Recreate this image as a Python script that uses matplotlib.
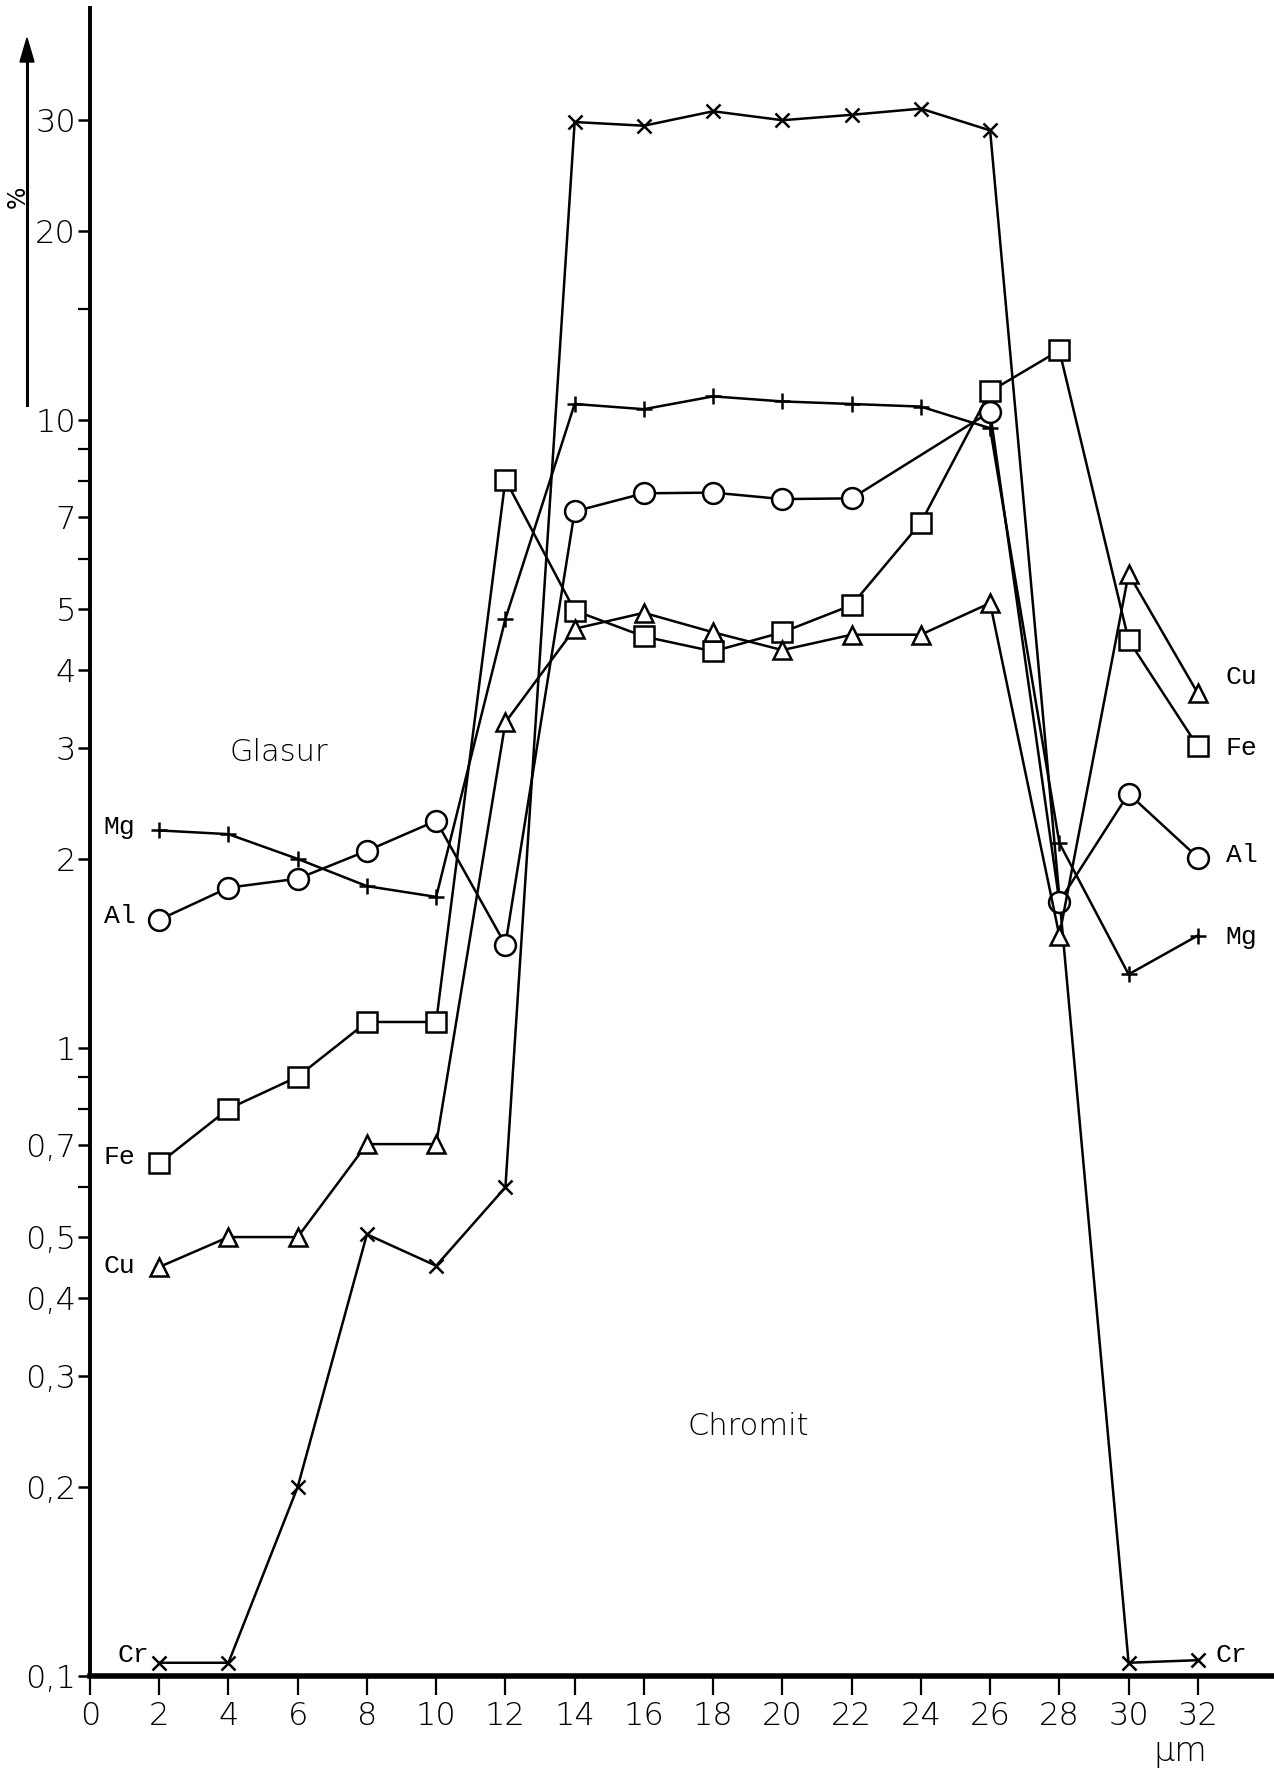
import matplotlib.pyplot as plt
import matplotlib.ticker as mticker
import numpy as np

# Konzentrationsprofil Glasur / Chromit
x_all = [2, 4, 6, 8, 10, 12, 14, 16, 18, 20, 22, 24, 26, 28, 30, 32]

cr_x = [2, 4, 6, 8, 10, 12, 14, 16, 18, 20, 22, 24, 26, 30, 32]
cr_y = [0.105, 0.105, 0.2, 0.505, 0.45, 0.6, 29.8, 29.4, 31.0, 30.0, 30.6,
        31.3, 28.9, 0.105, 0.106]

mg_y = [2.22, 2.19, 2.0, 1.81, 1.74, 4.82, 10.6, 10.4, 10.9, 10.7, 10.6,
        10.5, 9.7, 2.12, 1.31, 1.51]

al_x = [2, 4, 6, 8, 10, 12, 14, 16, 18, 20, 22, 26, 28, 30, 32]
al_y = [1.60, 1.80, 1.86, 2.06, 2.30, 1.46, 7.15, 7.64, 7.66, 7.48, 7.5,
        10.3, 1.71, 2.54, 2.01]

fe_y = [0.655, 0.80, 0.90, 1.10, 1.10, 8.03, 4.97, 4.52, 4.28, 4.59, 5.07,
        6.86, 11.1, 12.9, 4.46, 3.02]

cu_y = [0.448, 0.50, 0.50, 0.703, 0.703, 3.30, 4.65, 4.93, 4.59, 4.30, 4.55,
        4.55, 5.11, 1.51, 5.69, 3.67]

y_major = [0.1, 0.2, 0.3, 0.4, 0.5, 0.7, 1, 2, 3, 4, 5, 7, 10, 20, 30]
y_major_lbl = ['0,1', '0,2', '0,3', '0,4', '0,5', '0,7', '1', '2', '3', '4',
               '5', '7', '10', '20', '30']
y_minor = [0.6, 0.8, 0.9, 6, 8, 9, 15]
x_ticks = list(range(0, 33, 2))

mono = 'Liberation Mono'
sans = 'DejaVu Sans'


def main():
    fig = plt.figure(figsize=(12.74, 17.71), dpi=100)
    ax = fig.add_axes([0.0706, 0.0536, 0.9294, 0.942])
    ax.set_yscale('log')
    ax.set_xlim(0, 34.2)
    ax.set_ylim(0.1, 45.3)

    lw = 1.8
    mk = dict(color='k', lw=lw, mfc='white', mec='k', mew=1.8, zorder=3)
    ax.plot(cr_x, cr_y, marker='x', ms=10, **mk)
    ax.plot(x_all, mg_y, marker='+', ms=12, **mk)
    ax.plot(al_x, al_y, marker='o', ms=15, **mk)
    ax.plot(x_all, fe_y, marker='s', ms=14, **mk)
    ax.plot(x_all, cu_y, marker='^', ms=13, **mk)

    for s in ['top', 'right']:
        ax.spines[s].set_visible(False)
    ax.spines['left'].set_linewidth(2.8)
    ax.spines['bottom'].set_linewidth(4)

    ax.set_xticks(x_ticks)
    ax.set_xticklabels([str(v) for v in x_ticks])
    ax.yaxis.set_major_locator(mticker.FixedLocator(y_major))
    ax.yaxis.set_major_formatter(mticker.FixedFormatter(y_major_lbl))
    ax.yaxis.set_minor_locator(mticker.FixedLocator(y_minor))
    ax.yaxis.set_minor_formatter(mticker.NullFormatter())
    ax.tick_params(axis='x', direction='out', length=14, width=1.6,
                   labelsize=23, pad=4)
    ax.tick_params(axis='y', which='major', direction='out', length=9,
                   width=1.8, labelsize=23, pad=1)
    ax.tick_params(axis='y', which='minor', direction='out', length=9,
                   width=1.6)
    for lab in ax.get_xticklabels() + ax.get_yticklabels():
        lab.set_family(sans)
        lab.set_fontweight('light')

    # Beschriftungen der Kurven
    fs = 19
    ax.text(0.4, 2.25, 'Mg', family=mono, fontsize=fs, va='center')
    ax.text(0.4, 1.62, 'Al', family=mono, fontsize=fs, va='center')
    ax.text(0.4, 0.67, 'Fe', family=mono, fontsize=fs, va='center')
    ax.text(0.4, 0.45, 'Cu', family=mono, fontsize=fs, va='center')
    ax.text(0.8, 0.108, 'Cr', family=mono, fontsize=fs, va='center')
    ax.text(32.8, 3.9, 'Cu', family=mono, fontsize=fs, va='center')
    ax.text(32.8, 3.0, 'Fe', family=mono, fontsize=fs, va='center')
    ax.text(32.8, 2.03, 'Al', family=mono, fontsize=fs, va='center')
    ax.text(32.8, 1.5, 'Mg', family=mono, fontsize=fs, va='center')
    ax.text(32.5, 0.108, 'Cr', family=mono, fontsize=fs, va='center')

    ax.text(5.45, 2.95, 'Glasur', family=sans, fontsize=22, fontweight='light',
            ha='center', va='center')
    ax.text(19.0, 0.25, 'Chromit', family=sans, fontsize=22,
            fontweight='light', ha='center', va='center')

    # Achsenbeschriftungen
    fig.text(1180 / 1274, 1 - 1751 / 1771, 'µm', family=sans, fontsize=24,
             fontweight='light', ha='center', va='center')
    fig.add_artist(plt.Line2D([27 / 1274, 27 / 1274],
                              [1 - 405 / 1771, 1 - 60 / 1771],
                              color='k', lw=2.2))
    fig.patches.append(plt.Polygon([[20 / 1274, 1 - 62 / 1771],
                                    [34 / 1274, 1 - 62 / 1771],
                                    [27 / 1274, 1 - 38 / 1771]],
                                   closed=True, color='k',
                                   transform=fig.transFigure))
    fig.text(18 / 1274, 1 - 197 / 1771, '%', family=sans, fontsize=17,
             rotation=90, ha='center', va='center')

    fig.savefig('out.png', dpi=100)


if __name__ == '__main__':
    main()
